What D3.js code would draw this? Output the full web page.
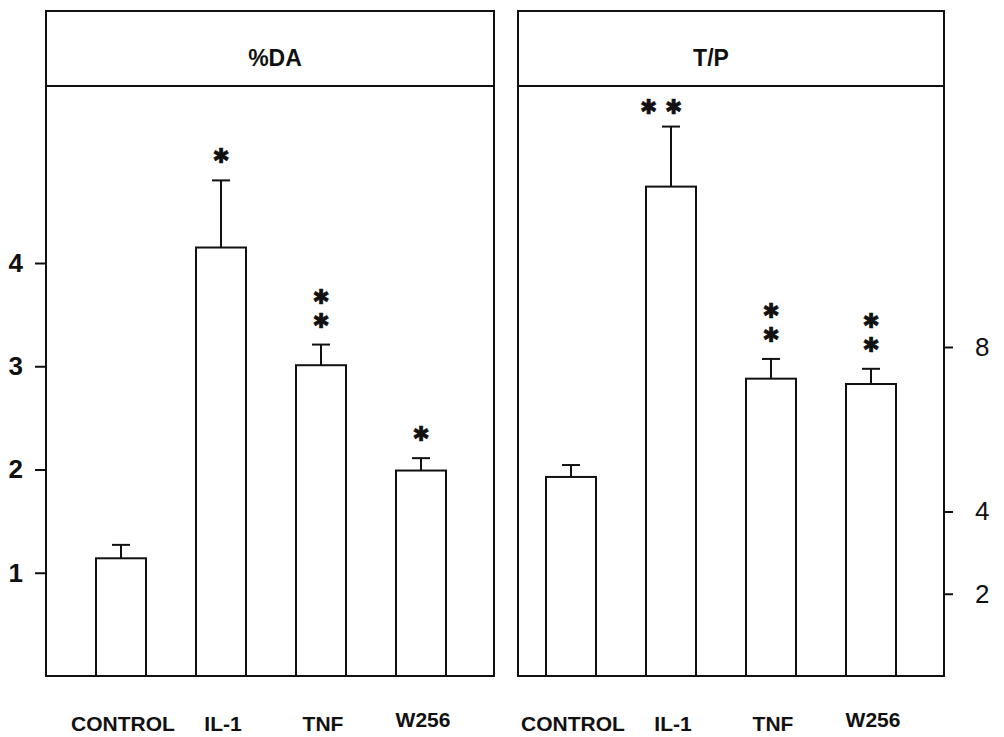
<!DOCTYPE html>
<html>
<head>
<meta charset="utf-8">
<script src="https://cdn.jsdelivr.net/npm/d3@7/dist/d3.min.js"></script>
<style>
  body { margin: 0; background: #fff; }
  svg { display: block; font-family: "Liberation Sans", Arial, sans-serif; }
</style>
</head>
<body>
<div id="chart"></div>
<script>
'use strict';

// values
const categories = ['CONTROL', 'IL-1', 'TNF', 'W256'];

const daValues = [1.14, 4.15, 3.01, 1.99];
const daErrors = [0.13, 0.65, 0.20, 0.12];
const daStars  = [0, 1, 2, 1];          // stacked vertically
const daTicks  = [1, 2, 3, 4];

const tpValues = [4.84, 11.9, 7.23, 7.10];
const tpErrors = [0.29, 1.46, 0.48, 0.37];
const tpStars  = [0, 2, 2, 2];
const tpStarSide = [false, true, false, false]; // IL-1 stars side by side
const tpTicks  = [2, 4, 8];

const W = 1004, H = 737;
const headTop = 11, plotTop = 86, base = 676;

const svg = d3.select('#chart').append('svg')
    .attr('width', W)
    .attr('height', H);

function drawPanel(opt) {
  const g = svg.append('g');

  const x = d3.scaleBand()
      .domain(categories)
      .range(opt.band)
      .paddingInner(0.5)
      .paddingOuter(0.25);

  const y = d3.scaleLinear().domain(opt.domain).range([base, opt.topPx]);

  // frame and header box
  g.append('rect')
      .attr('x', opt.left).attr('y', headTop)
      .attr('width', opt.right - opt.left).attr('height', base - headTop)
      .attr('fill', 'none').attr('stroke', '#111').attr('stroke-width', 2);
  g.append('line')
      .attr('x1', opt.left).attr('x2', opt.right)
      .attr('y1', plotTop).attr('y2', plotTop)
      .attr('stroke', '#111').attr('stroke-width', 2);

  g.append('text')
      .attr('x', (opt.left + opt.right) / 2 + opt.titleDx)
      .attr('y', 66)
      .attr('text-anchor', 'middle')
      .attr('font-size', 23).attr('font-weight', 'bold')
      .attr('fill', '#111')
      .text(opt.title);

  // error bars
  const eb = g.selectAll('.err')
      .data(opt.values.map((v, i) => ({ c: categories[i], v, e: opt.errors[i] })))
    .enter().append('g')
      .attr('class', 'err');
  eb.append('line')
      .attr('x1', d => x(d.c) + x.bandwidth() / 2)
      .attr('x2', d => x(d.c) + x.bandwidth() / 2)
      .attr('y1', d => y(d.v))
      .attr('y2', d => y(d.v + d.e))
      .attr('stroke', '#111').attr('stroke-width', 2);
  eb.append('line')
      .attr('x1', d => x(d.c) + x.bandwidth() / 2 - 9)
      .attr('x2', d => x(d.c) + x.bandwidth() / 2 + 9)
      .attr('y1', d => y(d.v + d.e))
      .attr('y2', d => y(d.v + d.e))
      .attr('stroke', '#111').attr('stroke-width', 2);

  // bars
  g.selectAll('.bar')
      .data(opt.values)
    .enter().append('rect')
      .attr('class', 'bar')
      .attr('x', (d, i) => x(categories[i]))
      .attr('y', d => y(d))
      .attr('width', x.bandwidth())
      .attr('height', d => y(0) - y(d))
      .attr('fill', '#fff')
      .attr('stroke', '#111').attr('stroke-width', 2);

  // significance asterisks (heavy asterisk glyph keeps the text boxes small)
  const fs = 20.5;
  opt.stars.forEach((n, i) => {
    const cx = x(categories[i]) + x.bandwidth() / 2;
    const capY = y(opt.values[i] + opt.errors[i]);
    for (let k = 0; k < n; k++) {
      let sx = cx, sy;
      if (opt.side && opt.side[i]) {
        sx = cx - 10 + (k - (n - 1) / 2) * 25;
        sy = capY - 20;
      } else {
        sy = capY - 24 - k * 24;
      }
      g.append('text')
          .attr('x', sx)
          .attr('y', sy)
          .attr('dominant-baseline', 'central')
          .attr('text-anchor', 'middle')
          .attr('font-family', '"DejaVu Sans", sans-serif')
          .attr('font-size', fs)
          .attr('fill', '#111')
          .attr('stroke', '#111').attr('stroke-width', 0.7)
          .text('\u2731');
    }
  });

  // category labels
  g.selectAll('.cat')
      .data(categories)
    .enter().append('text')
      .attr('class', 'cat')
      .attr('x', d => x(d) + x.bandwidth() / 2 + 2)
      .attr('y', d => d === 'W256' ? 727 : 731)
      .attr('text-anchor', 'middle')
      .attr('font-size', 21).attr('font-weight', 'bold')
      .attr('fill', '#111')
      .text(d => d);

  return y;
}

const yDA = drawPanel({
  left: 46, right: 494, band: [71, 471],
  domain: [0, 4], topPx: 263,
  values: daValues, errors: daErrors, stars: daStars,
  title: '%DA', titleDx: 5
});

const yTP = drawPanel({
  left: 518, right: 944, band: [521, 921],
  domain: [0, 8], topPx: 347,
  values: tpValues, errors: tpErrors, stars: tpStars, side: tpStarSide,
  title: 'T/P', titleDx: -20
});

// left axis
const axL = svg.append('g')
    .attr('transform', 'translate(46,0)')
    .call(d3.axisLeft(yDA).tickValues(daTicks).tickSize(11).tickPadding(12).tickFormat(d3.format('d')));
axL.select('.domain').remove();
axL.selectAll('.tick line').attr('stroke', '#111').attr('stroke-width', 2);
axL.selectAll('.tick text')
    .attr('font-size', 26).attr('font-weight', 'bold')
    .attr('font-family', '"Liberation Sans", Arial, sans-serif')
    .attr('fill', '#111');

// right axis
const axR = svg.append('g')
    .attr('transform', 'translate(944,0)')
    .call(d3.axisRight(yTP).tickValues(tpTicks).tickSize(9).tickPadding(22).tickFormat(d3.format('d')));
axR.select('.domain').remove();
axR.selectAll('.tick line').attr('stroke', '#111').attr('stroke-width', 2);
axR.selectAll('.tick text')
    .attr('font-size', 26)
    .attr('font-family', '"Liberation Sans", Arial, sans-serif')
    .attr('fill', '#111');
</script>
</body>
</html>
